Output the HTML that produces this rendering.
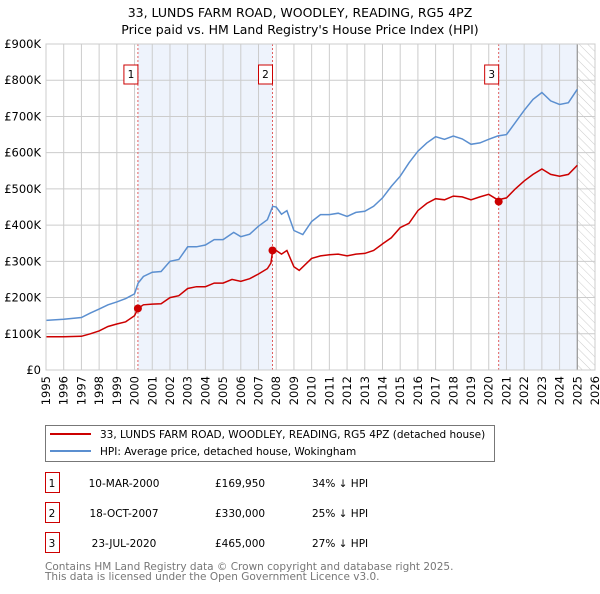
<!DOCTYPE html>
<html><head><meta charset="utf-8"><style>
body{margin:0;width:600px;height:590px;background:#fff;font-family:"DejaVu Sans","Liberation Sans",sans-serif;overflow:hidden}
svg text{font-family:"DejaVu Sans","Liberation Sans",sans-serif}
</style></head><body>
<svg id="c" width="600" height="590" xmlns="http://www.w3.org/2000/svg">
<defs><pattern id="hatch" width="6" height="6" patternUnits="userSpaceOnUse" patternTransform="rotate(-45)"><line x1="0" y1="0" x2="0" y2="6" stroke="#ccc" stroke-width="1"/></pattern></defs>
<text x="300" y="17" text-anchor="middle" font-size="12.5">33, LUNDS FARM ROAD, WOODLEY, READING, RG5 4PZ</text>
<text x="300" y="34" text-anchor="middle" font-size="12.5">Price paid vs. HM Land Registry's House Price Index (HPI)</text>
<g id="plot"></g>
<g>
<rect x="45.5" y="425.5" width="449" height="36" fill="#fff" stroke="#777"/>
<line x1="50" y1="434" x2="91" y2="434" stroke="#cc0000" stroke-width="2"/>
<text x="100" y="438" font-size="10.5">33, LUNDS FARM ROAD, WOODLEY, READING, RG5 4PZ (detached house)</text>
<line x1="50" y1="451" x2="91" y2="451" stroke="#5b8fd0" stroke-width="2"/>
<text x="100" y="455" font-size="10.5">HPI: Average price, detached house, Wokingham</text>
</g>
<g id="table" font-size="10.5"></g>
<text x="45" y="570" font-size="10.5" fill="#777">Contains HM Land Registry data © Crown copyright and database right 2025.</text>
<text x="45" y="580" font-size="10.5" fill="#777">This data is licensed under the Open Government Licence v3.0.</text>
</svg>
<script>
const hpiYears=[1995,1996,1997,1997.5,1998,1998.5,1999,1999.5,2000,2000.2,2000.5,2001,2001.5,2002,2002.5,2003,2003.5,2004,2004.5,2005,2005.6,2006,2006.5,2007,2007.5,2007.8,2008,2008.3,2008.6,2009,2009.5,2010,2010.5,2011,2011.5,2012,2012.5,2013,2013.5,2014,2014.5,2015,2015.5,2016,2016.5,2017,2017.5,2018,2018.5,2019,2019.5,2020,2020.5,2021,2021.5,2022,2022.5,2023,2023.5,2024,2024.5,2025];
const hpiValues=[137,140,145,157,168,180,188,197,210,240,258,270,272,300,305,340,340,345,360,360,380,368,375,397,415,452,450,430,440,385,374,410,429,429,433,424,435,438,452,475,507,535,572,604,627,644,637,646,638,623,627,637,646,650,683,717,747,766,743,733,738,775];
const ppYears=[1995,1996,1997,1997.5,1998,1998.5,1999,1999.5,2000,2000.2,2000.5,2001,2001.5,2002,2002.5,2003,2003.5,2004,2004.5,2005,2005.5,2006,2006.5,2007,2007.5,2007.7,2007.8,2008,2008.3,2008.6,2009,2009.3,2010,2010.5,2011,2011.5,2012,2012.5,2013,2013.5,2014,2014.5,2015,2015.5,2016,2016.5,2017,2017.5,2018,2018.5,2019,2019.5,2020,2020.5,2021,2021.5,2022,2022.5,2023,2023.5,2024,2024.5,2025];
const ppValues=[92,92,93,100,108,120,127,133,150,170,180,182,183,200,205,225,230,230,240,240,250,245,252,265,280,295,330,330,320,330,285,275,308,315,318,320,315,320,322,330,348,365,393,405,440,460,473,470,480,478,470,478,485,470,475,500,522,540,555,540,535,540,565];
const saleLabels=["1","2","3"];
const saleYears=[2000.19,2007.79,2020.56];
const saleValues=[169.95,330,465];
const saleDates=["10-MAR-2000","18-OCT-2007","23-JUL-2020"];
const salePrices=["£169,950","£330,000","£465,000"];
const saleHpi=["34% ↓ HPI","25% ↓ HPI","27% ↓ HPI"];
const yTicks=[0,100,200,300,400,500,600,700,800,900];
const yTickLabels=["£0","£100K","£200K","£300K","£400K","£500K","£600K","£700K","£800K","£900K"];
const xTicks=[1995,1996,1997,1998,1999,2000,2001,2002,2003,2004,2005,2006,2007,2008,2009,2010,2011,2012,2013,2014,2015,2016,2017,2018,2019,2020,2021,2022,2023,2024,2025,2026];
const dataEnd=2025.0;

const X0=46,X1=595,Y0=370,Y1=44;
const x=v=>X0+(v-1995)/(2026-1995)*(X1-X0);
const y=v=>Y0-v/900*(Y0-Y1);
const NS="http://www.w3.org/2000/svg";
const plot=document.getElementById('plot');
function mk(tag,attrs,parent){const e=document.createElementNS(NS,tag);for(const k in attrs)e.setAttribute(k,attrs[k]);(parent||plot).appendChild(e);return e;}

let r;
r=mk('rect',{x:x(saleYears[0]),y:Y1,width:x(saleYears[1])-x(saleYears[0]),height:Y0-Y1,fill:'#eef3fc'});


r=mk('rect',{x:x(saleYears[2]),y:Y1,width:x(dataEnd)-x(saleYears[2]),height:Y0-Y1,fill:'#eef3fc'});


r=mk('rect',{x:x(dataEnd),y:Y1,width:X1-x(dataEnd),height:Y0-Y1,fill:'url(#hatch)'});



yTicks.forEach((t,i)=>{
  const l=mk('line',{x1:X0,x2:X1,y1:y(t),y2:y(t),stroke:'#ccc','stroke-width':1});
  
  
  const tx=mk('text',{x:X0-5,y:y(t)+4,'text-anchor':'end','font-size':11.5});
  tx.textContent=yTickLabels[i];
  
  
});
xTicks.forEach(t=>{
  const l=mk('line',{x1:x(t),x2:x(t),y1:Y1,y2:Y0,stroke:'#ccc','stroke-width':1});
  
  
  const tx=mk('text',{x:0,y:0,'text-anchor':'end','font-size':11.5,transform:`translate(${x(t)+4},${Y0+6}) rotate(-90)`});
  tx.textContent=t;
  
  
});
r=mk('line',{x1:x(dataEnd),x2:x(dataEnd),y1:Y1,y2:Y0,stroke:'#999','stroke-width':1.2});



saleYears.forEach((s,i)=>{
  const l=mk('line',{x1:x(s),x2:x(s),y1:Y1,y2:Y0,stroke:'#e06060','stroke-width':1,'stroke-dasharray':'2,2'});
  
  
  const b=mk('rect',{x:x(s)-14,y:65,width:14,height:19,fill:'#fff',stroke:'#cc0000'});
  
  
  const t=mk('text',{x:x(s)-7,y:78,'text-anchor':'middle','font-size':10.5});
  t.textContent=saleLabels[i];
  
  
});

const hp=mk('path',{d:hpiYears.map((v,i)=>(i?'L':'M')+x(v).toFixed(1)+','+y(hpiValues[i]).toFixed(1)).join(''),fill:'none',stroke:'#5b8fd0','stroke-width':1.5});


const pp=mk('path',{d:ppYears.map((v,i)=>(i?'L':'M')+x(v).toFixed(1)+','+y(ppValues[i]).toFixed(1)).join(''),fill:'none',stroke:'#cc0000','stroke-width':1.5});


saleYears.forEach((s,i)=>{
  const c=mk('circle',{cx:x(s),cy:y(saleValues[i]),r:4,fill:'#cc0000'});
  
  
});
r=mk('rect',{x:X0,y:Y1,width:X1-X0,height:Y0-Y1,fill:'none',stroke:'#ccc'});



const tb=document.getElementById('table');
const rowY=[483,513,543];
saleLabels.forEach((lab,i)=>{
  const ry=rowY[i];
  const b=mk('rect',{x:45.5,y:ry-10.5,width:14,height:20,fill:'#fff',stroke:'#cc0000'},tb);
  
  
  const cols=[[52,lab,'middle'],[124,saleDates[i],'middle'],[215,salePrices[i],'start'],[312,saleHpi[i],'start']];
  cols.forEach(cl=>{
    const t=mk('text',{x:cl[0],y:ry+4,'text-anchor':cl[2]},tb);
    t.textContent=cl[1];
    
    
  });
});
</script>
</body></html>
